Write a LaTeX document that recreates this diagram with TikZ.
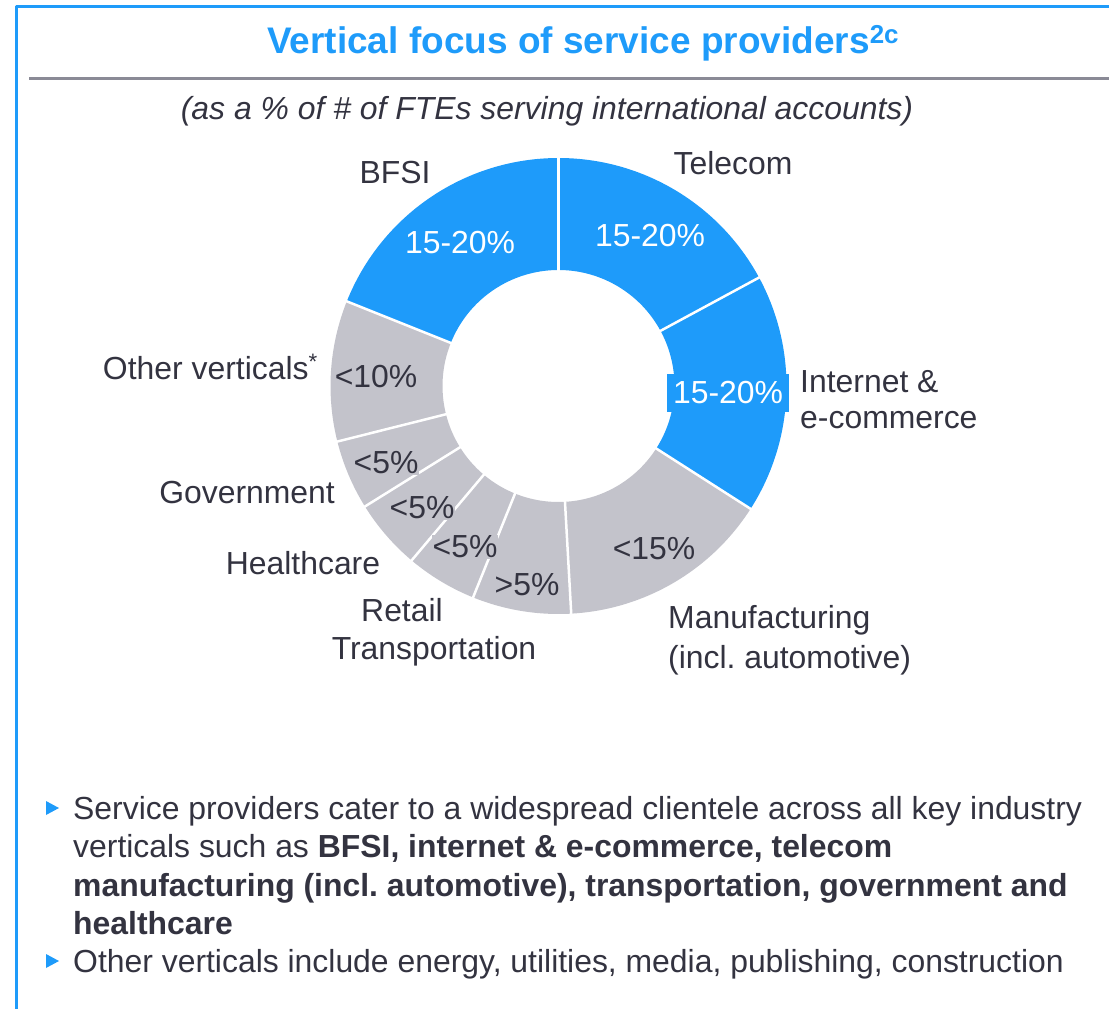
\documentclass[tikz,border=0pt]{standalone}
\usepackage{fontspec}
\setmainfont{Liberation Sans}
\frenchspacing
\definecolor{vblue}{RGB}{30,155,250}
\definecolor{vgray}{RGB}{195,195,203}
\definecolor{vtext}{RGB}{51,51,64}
\definecolor{vrule}{RGB}{138,138,150}
\tikzset{
  txt/.style={text=vtext, inner sep=0pt, font=\fontsize{31.9}{38.5}\selectfont},
  pctblue/.style={txt, text=white},
  pctgray/.style={txt, fill=vgray, inner sep=1pt},
}
\begin{document}
\begin{tikzpicture}[x=1pt, y=-1pt, line join=round]
	\def\R{228}\def\r{116}
	\useasboundingbox (0,0) rectangle (1109,1009);
	% frame, title and rule
	\draw[vblue, line width=3pt] (16,1012) -- (16,6) -- (1112,6);
	\draw[vrule, line width=3pt] (29,78) -- (1112,78);
	\node[anchor=base west, inner sep=0pt, text=vblue, font=\fontsize{37}{44}\selectfont\bfseries] (title) at (267,53) {Vertical focus of service providers\textsuperscript{2c}};
	\node[txt, anchor=base, font=\fontsize{31.9}{38.5}\selectfont\itshape] (sub) at (547,119) {(as a \% of \# of FTEs serving international accounts)};
	% donut
	\begin{scope}[shift={(558.5,386)}, yscale=-1]
		\foreach \a/\b/\c in {90/28.4/vblue, 28.4/-32.6/vblue, -32.6/-86.8/vgray, -86.8/-112/vgray, -112/-130.1/vgray, -130.1/-148.1/vgray, -148.1/-165.9/vgray, -165.9/-201.8/vgray, 158.2/90/vblue}
			\fill[\c] (\a:\R) arc[start angle=\a, end angle=\b, radius=\R] -- (\b:\r) arc[start angle=\b, end angle=\a, radius=\r] -- cycle;
		\foreach \a in {90,28.4,-32.6,-86.8,-112,-130.1,-148.1,-165.9,158.2}
			\draw[white, line width=2.5pt] (\a:{\r-2}) -- (\a:{\R+2});
	\end{scope}
	% values
	\node[pctblue] (vbfsi) at (460,243) {15-20\%};
	\node[pctblue] (vtel) at (650,236) {15-20\%};
	\node[pctblue, fill=vblue, inner xsep=6pt, minimum height=38pt] (vnet) at (728,393) {15-20\%};
	\node[pctgray] (vman) at (654,549) {<15\%};
	\node[pctgray] (vtra) at (527,585) {>5\%};
	\node[pctgray] (vret) at (465,547) {<5\%};
	\node[pctgray] (vhea) at (422,508) {<5\%};
	\node[pctgray] (vgov) at (386,463) {<5\%};
	\node[pctgray] (voth) at (376,377) {<10\%};
	% categories
	\node[txt, anchor=base] (bfsi) at (395,183) {BFSI};
	\node[txt, anchor=base] (tel) at (733,174) {Telecom};
	\node[txt, anchor=base east] (oth) at (318,379) {Other verticals\textsuperscript{*}};
	\node[txt, anchor=base west] (net) at (800,392) {Internet \&};
	\node[txt, anchor=base west] (ecom) at (800,428) {e-commerce};
	\node[txt, anchor=base east] (gov) at (335,503) {Government};
	\node[txt, anchor=base] (hea) at (303,574) {Healthcare};
	\node[txt, anchor=base] (ret) at (402,621) {Retail};
	\node[txt, anchor=base] (tra) at (434,659) {Transportation};
	\node[txt, anchor=base west] (man) at (668,628) {Manufacturing};
	\node[txt, anchor=base west] (auto) at (668,668) {(incl. automotive)};
	% bullets
	\fill[vblue] (46,801) -- (59,808) -- (46,815) -- cycle;
	\fill[vblue] (46,954) -- (59,961) -- (46,968) -- cycle;
	\node[txt, anchor=base west] (b1) at (73,819) {Service providers cater to a widespread clientele across all key industry};
	\node[txt, anchor=base west] (b2) at (73,857) {verticals such as \textbf{BFSI, internet \& e-commerce, telecom}};
	\node[txt, anchor=base west] (b3) at (73,896) {\textbf{manufacturing (incl. automotive), transportation, government and}};
	\node[txt, anchor=base west] (b4) at (73,934) {\textbf{healthcare}};
	\node[txt, anchor=base west] (b5) at (73,972) {Other verticals include energy, utilities, media, publishing, construction};
\end{tikzpicture}
\end{document}
